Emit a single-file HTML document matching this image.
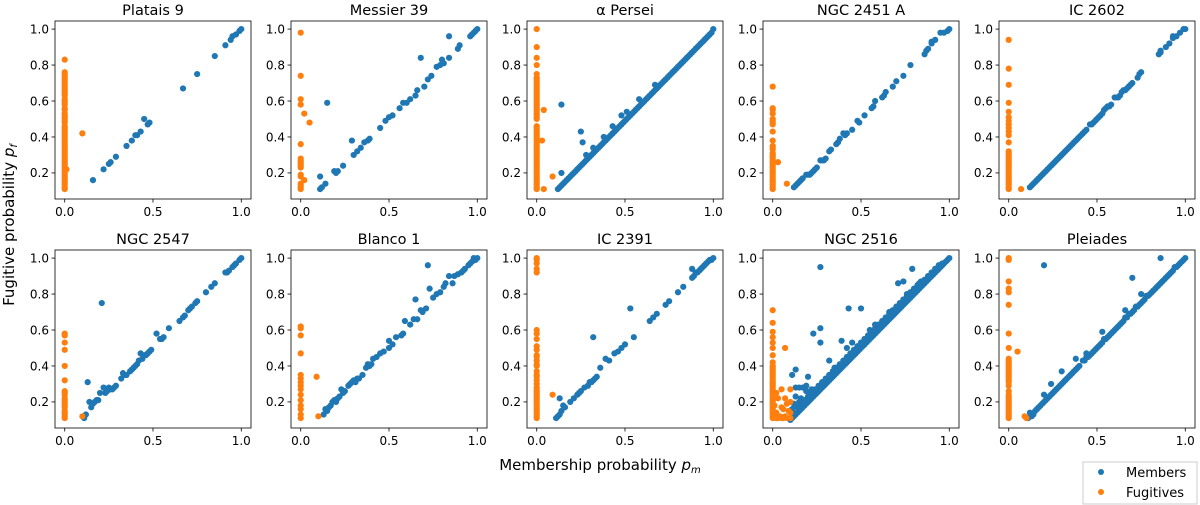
<!DOCTYPE html>
<html><head><meta charset="utf-8"><style>
html,body{margin:0;padding:0;background:#fff;}
svg{display:block;font-family:"DejaVu Sans","Liberation Sans",sans-serif;}
</style></head><body>
<svg id="fig" width="1200" height="505" viewBox="0 0 1200 505">
<text x="14" y="225" font-size="15" text-anchor="middle" transform="rotate(-90 14 225)">Fugitive probability <tspan font-style="italic">p</tspan><tspan font-style="italic" font-size="10" dy="3">f</tspan></text>
<text x="600" y="470" font-size="15" text-anchor="middle">Membership probability <tspan font-style="italic">p</tspan><tspan font-style="italic" font-size="10" dy="3">m</tspan></text>
<g>
<rect x="1083" y="462" width="114" height="42" fill="#fff" stroke="#ccc" stroke-width="1"/>
<circle cx="1101" cy="472" r="3" fill="#1f77b4"/>
<text x="1126" y="477" font-size="13">Members</text>
<circle cx="1101" cy="492" r="3" fill="#ff7f0e"/>
<text x="1126" y="497" font-size="13">Fugitives</text>
</g>
</svg>
<script>
const titles=["Platais 9","Messier 39","\u03b1 Persei","NGC 2451 A","IC 2602","NGC 2547","Blanco 1","IC 2391","NGC 2516","Pleiades"];
const xTicks=[0,0.5,1.0];
const xTickLabels=["0.0","0.5","1.0"];
const yTicks=[0.2,0.4,0.6,0.8,1.0];
const yTickLabels=["0.2","0.4","0.6","0.8","1.0"];

const m0=[[0.16,0.16],[0.22,0.22],[0.25,0.25],[0.26,0.26],[0.29,0.29],[0.35,0.35],[0.38,0.38],[0.40,0.41],[0.41,0.41],[0.43,0.43],[0.45,0.50],[0.47,0.47],[0.48,0.48],[0.67,0.67],[0.75,0.75],[0.85,0.85],[0.91,0.91],[0.94,0.94],[0.95,0.96],[0.97,0.97],[0.99,0.99],[1.0,1.0]];
const f0=[[0,0.83],[0,0.76],[0,0.75],[0,0.74],[0,0.73],[0,0.72],[0,0.71],[0,0.70],[0,0.69],[0,0.68],[0,0.67],[0,0.66],[0,0.65],[0,0.64],[0,0.63],[0,0.61],[0,0.60],[0,0.59],[0,0.58],[0,0.56],[0,0.55],[0,0.53],[0,0.52],[0,0.51],[0,0.50],[0,0.49],[0,0.48],[0,0.46],[0,0.45],[0,0.44],[0,0.43],[0,0.42],[0,0.41],[0,0.40],[0,0.39],[0,0.38],[0,0.37],[0,0.36],[0,0.35],[0,0.34],[0,0.33],[0,0.32],[0,0.31],[0,0.30],[0,0.29],[0,0.28],[0,0.27],[0,0.26],[0,0.25],[0,0.24],[0,0.23],[0,0.22],[0,0.21],[0,0.20],[0,0.19],[0,0.18],[0,0.17],[0,0.16],[0,0.15],[0,0.14],[0,0.13],[0,0.12],[0,0.11],[0.1,0.42],[0.01,0.22]];

const m1=[[0.11,0.11],[0.12,0.12],[0.11,0.18],[0.14,0.14],[0.15,0.59],[0.19,0.21],[0.20,0.20],[0.21,0.21],[0.24,0.24],[0.29,0.38],[0.30,0.30],[0.32,0.32],[0.34,0.34],[0.36,0.37],[0.38,0.38],[0.39,0.39],[0.45,0.45],[0.48,0.49],[0.50,0.51],[0.52,0.52],[0.56,0.56],[0.58,0.59],[0.60,0.59],[0.62,0.61],[0.65,0.63],[0.66,0.66],[0.68,0.84],[0.70,0.68],[0.72,0.72],[0.74,0.74],[0.77,0.79],[0.79,0.80],[0.80,0.83],[0.81,0.81],[0.84,0.84],[0.84,0.96],[0.89,0.89],[0.90,0.91],[0.96,0.96],[0.97,0.97],[0.98,0.98],[0.99,0.99],[1.0,1.0]];
const f1=[[0,0.98],[0,0.74],[0,0.61],[0,0.58],[0,0.36],[0,0.28],[0,0.27],[0,0.26],[0,0.25],[0,0.24],[0,0.23],[0,0.19],[0,0.18],[0,0.14],[0,0.13],[0,0.12],[0,0.11],[0.02,0.53],[0.05,0.48],[0.02,0.16]];

const m2=[[0.12,0.11],[0.13,0.12],[0.14,0.13],[0.15,0.14],[0.16,0.15],[0.17,0.16],[0.18,0.17],[0.19,0.18],[0.20,0.19],[0.21,0.20],[0.22,0.21],[0.23,0.22],[0.24,0.23],[0.25,0.24],[0.26,0.25],[0.27,0.26],[0.28,0.27],[0.29,0.28],[0.30,0.29],[0.31,0.30],[0.32,0.31],[0.33,0.32],[0.34,0.33],[0.35,0.34],[0.36,0.35],[0.37,0.36],[0.38,0.37],[0.39,0.38],[0.40,0.39],[0.41,0.40],[0.42,0.41],[0.43,0.42],[0.44,0.43],[0.45,0.44],[0.46,0.45],[0.47,0.46],[0.48,0.47],[0.49,0.48],[0.50,0.49],[0.51,0.50],[0.52,0.51],[0.53,0.52],[0.54,0.53],[0.55,0.54],[0.56,0.55],[0.57,0.56],[0.58,0.57],[0.59,0.58],[0.60,0.59],[0.61,0.60],[0.62,0.61],[0.63,0.62],[0.64,0.63],[0.65,0.64],[0.66,0.65],[0.67,0.66],[0.68,0.67],[0.69,0.68],[0.70,0.69],[0.71,0.70],[0.72,0.71],[0.73,0.72],[0.74,0.73],[0.75,0.74],[0.76,0.75],[0.77,0.76],[0.78,0.77],[0.79,0.78],[0.80,0.79],[0.81,0.80],[0.82,0.81],[0.83,0.82],[0.84,0.83],[0.85,0.84],[0.86,0.85],[0.87,0.86],[0.88,0.87],[0.89,0.88],[0.90,0.89],[0.91,0.90],[0.92,0.91],[0.93,0.92],[0.94,0.93],[0.95,0.94],[0.96,0.95],[0.97,0.96],[0.98,0.97],[0.99,0.98],[1.0,1.0],[0.14,0.20],[0.14,0.58],[0.25,0.43],[0.26,0.37],[0.28,0.30],[0.32,0.34],[0.38,0.40],[0.43,0.46],[0.48,0.52],[0.51,0.54],[0.58,0.61],[0.67,0.69]];
const f2=[[0,1.0],[0,0.90],[0,0.84],[0,0.80],[0,0.75],[0,0.73],[0,0.72],[0,0.71],[0,0.70],[0,0.69],[0,0.68],[0,0.67],[0,0.66],[0,0.65],[0,0.64],[0,0.63],[0,0.62],[0,0.61],[0,0.60],[0,0.59],[0,0.58],[0,0.57],[0,0.56],[0,0.55],[0,0.54],[0,0.53],[0,0.52],[0,0.51],[0,0.50],[0,0.46],[0,0.45],[0,0.44],[0,0.43],[0,0.42],[0,0.41],[0,0.40],[0,0.39],[0,0.38],[0,0.37],[0,0.36],[0,0.35],[0,0.34],[0,0.33],[0,0.32],[0,0.31],[0,0.30],[0,0.29],[0,0.28],[0,0.27],[0,0.26],[0,0.25],[0,0.24],[0,0.23],[0,0.22],[0,0.21],[0,0.20],[0,0.19],[0,0.18],[0,0.17],[0,0.16],[0,0.15],[0,0.14],[0,0.13],[0,0.12],[0,0.11],[0.04,0.55],[0.03,0.38],[0.09,0.18],[0.04,0.11]];

const m3=[[0.12,0.12],[0.13,0.13],[0.14,0.14],[0.15,0.15],[0.16,0.16],[0.17,0.17],[0.19,0.19],[0.20,0.19],[0.21,0.19],[0.22,0.20],[0.23,0.21],[0.24,0.22],[0.25,0.23],[0.27,0.27],[0.28,0.27],[0.29,0.27],[0.30,0.28],[0.32,0.32],[0.33,0.33],[0.36,0.36],[0.37,0.37],[0.38,0.39],[0.40,0.42],[0.41,0.41],[0.42,0.42],[0.45,0.44],[0.48,0.49],[0.49,0.48],[0.52,0.52],[0.56,0.56],[0.57,0.57],[0.58,0.60],[0.62,0.62],[0.63,0.63],[0.64,0.65],[0.68,0.68],[0.70,0.71],[0.74,0.74],[0.78,0.80],[0.86,0.86],[0.87,0.88],[0.88,0.89],[0.90,0.92],[0.90,0.93],[0.92,0.94],[0.95,0.98],[0.97,0.98],[0.99,0.99],[1.0,1.0]];
const f3=[[0,0.68],[0,0.56],[0,0.55],[0,0.53],[0,0.50],[0,0.49],[0,0.48],[0,0.47],[0,0.43],[0,0.38],[0,0.35],[0,0.34],[0,0.33],[0,0.31],[0,0.30],[0,0.29],[0,0.28],[0,0.27],[0,0.26],[0,0.25],[0,0.24],[0,0.23],[0,0.22],[0,0.21],[0,0.20],[0,0.19],[0,0.18],[0,0.17],[0,0.16],[0,0.15],[0,0.14],[0,0.13],[0,0.12],[0,0.11],[0.03,0.26],[0.08,0.14]];

const m4=[[0.12,0.12],[0.13,0.13],[0.14,0.14],[0.15,0.15],[0.16,0.16],[0.17,0.17],[0.18,0.18],[0.19,0.19],[0.20,0.20],[0.21,0.21],[0.22,0.22],[0.23,0.23],[0.24,0.24],[0.25,0.25],[0.26,0.26],[0.27,0.27],[0.28,0.28],[0.29,0.29],[0.30,0.30],[0.31,0.31],[0.32,0.32],[0.33,0.33],[0.34,0.34],[0.35,0.35],[0.36,0.36],[0.37,0.37],[0.38,0.38],[0.39,0.39],[0.40,0.40],[0.41,0.41],[0.42,0.42],[0.43,0.43],[0.44,0.44],[0.46,0.47],[0.47,0.47],[0.48,0.48],[0.49,0.49],[0.50,0.50],[0.51,0.51],[0.52,0.52],[0.53,0.53],[0.54,0.55],[0.55,0.56],[0.56,0.57],[0.57,0.57],[0.58,0.58],[0.60,0.62],[0.61,0.62],[0.62,0.62],[0.63,0.63],[0.64,0.65],[0.65,0.66],[0.66,0.66],[0.67,0.67],[0.68,0.68],[0.69,0.69],[0.70,0.70],[0.73,0.73],[0.74,0.75],[0.75,0.76],[0.85,0.86],[0.86,0.87],[0.86,0.88],[0.89,0.90],[0.91,0.92],[0.93,0.95],[0.93,0.96],[0.95,0.96],[0.97,0.98],[0.99,1.0],[1.0,1.0]];
const f4=[[0,0.94],[0,0.78],[0,0.69],[0,0.59],[0,0.54],[0,0.51],[0,0.49],[0,0.47],[0,0.45],[0,0.43],[0,0.41],[0,0.37],[0,0.32],[0,0.31],[0,0.30],[0,0.29],[0,0.28],[0,0.27],[0,0.26],[0,0.25],[0,0.24],[0,0.23],[0,0.22],[0,0.21],[0,0.20],[0,0.19],[0,0.18],[0,0.17],[0,0.16],[0,0.15],[0,0.14],[0,0.13],[0,0.12],[0,0.11],[0.07,0.11]];

const m5=[[0.11,0.11],[0.12,0.13],[0.13,0.31],[0.14,0.20],[0.15,0.17],[0.16,0.19],[0.17,0.20],[0.18,0.21],[0.19,0.21],[0.20,0.25],[0.21,0.75],[0.22,0.28],[0.23,0.25],[0.24,0.26],[0.25,0.28],[0.26,0.27],[0.27,0.27],[0.28,0.28],[0.29,0.29],[0.32,0.33],[0.33,0.36],[0.34,0.35],[0.35,0.35],[0.37,0.37],[0.38,0.38],[0.39,0.39],[0.40,0.40],[0.41,0.41],[0.42,0.43],[0.43,0.47],[0.44,0.44],[0.45,0.46],[0.46,0.46],[0.47,0.47],[0.48,0.48],[0.49,0.49],[0.52,0.58],[0.54,0.55],[0.55,0.55],[0.56,0.56],[0.59,0.61],[0.65,0.65],[0.67,0.67],[0.68,0.68],[0.70,0.71],[0.71,0.72],[0.72,0.73],[0.74,0.75],[0.75,0.76],[0.80,0.81],[0.83,0.84],[0.85,0.86],[0.91,0.92],[0.92,0.92],[0.93,0.93],[0.95,0.95],[0.96,0.96],[0.97,0.97],[0.99,0.99],[1.0,1.0]];
const f5=[[0,0.58],[0,0.57],[0,0.53],[0,0.49],[0,0.40],[0,0.32],[0,0.26],[0,0.25],[0,0.24],[0,0.22],[0,0.21],[0,0.20],[0,0.19],[0,0.18],[0,0.17],[0,0.15],[0,0.14],[0,0.13],[0,0.12],[0,0.11],[0.1,0.12]];

const m6=[[0.13,0.13],[0.14,0.16],[0.15,0.15],[0.16,0.17],[0.17,0.18],[0.18,0.20],[0.19,0.21],[0.20,0.20],[0.21,0.22],[0.22,0.23],[0.23,0.27],[0.24,0.25],[0.25,0.26],[0.27,0.29],[0.28,0.30],[0.29,0.31],[0.30,0.32],[0.31,0.31],[0.32,0.33],[0.33,0.33],[0.35,0.35],[0.37,0.39],[0.38,0.41],[0.39,0.40],[0.40,0.41],[0.41,0.44],[0.43,0.45],[0.45,0.47],[0.47,0.48],[0.50,0.50],[0.50,0.54],[0.52,0.52],[0.54,0.56],[0.57,0.57],[0.58,0.58],[0.59,0.65],[0.62,0.63],[0.64,0.66],[0.65,0.77],[0.66,0.66],[0.68,0.71],[0.69,0.70],[0.71,0.72],[0.72,0.96],[0.73,0.83],[0.75,0.78],[0.77,0.80],[0.79,0.81],[0.81,0.84],[0.82,0.86],[0.84,0.90],[0.86,0.86],[0.87,0.90],[0.89,0.91],[0.91,0.92],[0.92,0.93],[0.93,0.94],[0.95,0.96],[0.96,0.97],[0.97,0.98],[0.98,1.0],[0.99,0.99],[1.0,1.0]];
const f6=[[0,0.62],[0,0.61],[0,0.57],[0,0.47],[0,0.35],[0,0.33],[0,0.31],[0,0.29],[0,0.27],[0,0.24],[0,0.21],[0,0.18],[0,0.16],[0,0.13],[0,0.11],[0.09,0.34],[0.1,0.12]];

const m7=[[0.11,0.11],[0.12,0.12],[0.13,0.22],[0.13,0.13],[0.14,0.15],[0.15,0.18],[0.16,0.17],[0.19,0.20],[0.21,0.22],[0.23,0.24],[0.24,0.25],[0.25,0.26],[0.27,0.28],[0.29,0.29],[0.30,0.31],[0.31,0.31],[0.32,0.56],[0.32,0.32],[0.33,0.33],[0.34,0.34],[0.36,0.39],[0.39,0.44],[0.41,0.43],[0.44,0.47],[0.46,0.48],[0.48,0.50],[0.50,0.52],[0.53,0.72],[0.55,0.56],[0.64,0.65],[0.66,0.67],[0.68,0.69],[0.73,0.74],[0.75,0.76],[0.80,0.81],[0.83,0.84],[0.88,0.94],[0.88,0.89],[0.89,0.90],[0.90,0.92],[0.91,0.92],[0.92,0.93],[0.93,0.94],[0.94,0.95],[0.95,0.96],[0.96,0.97],[0.97,0.98],[0.98,0.99],[0.99,0.99],[1.0,1.0]];
const f7=[[0,1.0],[0,0.99],[0,0.97],[0,0.94],[0,0.92],[0,0.60],[0,0.58],[0,0.55],[0,0.51],[0,0.49],[0,0.46],[0,0.45],[0,0.43],[0,0.41],[0,0.40],[0,0.37],[0,0.35],[0,0.34],[0,0.32],[0,0.30],[0,0.28],[0,0.27],[0,0.26],[0,0.25],[0,0.24],[0,0.23],[0,0.22],[0,0.21],[0,0.20],[0,0.19],[0,0.18],[0,0.17],[0,0.16],[0,0.15],[0,0.14],[0,0.13],[0,0.12],[0,0.11],[0.09,0.24]];

const m8=[[0.10,0.10],[0.11,0.11],[0.12,0.12],[0.13,0.13],[0.14,0.14],[0.15,0.15],[0.16,0.16],[0.17,0.17],[0.18,0.18],[0.19,0.19],[0.20,0.20],[0.21,0.21],[0.22,0.22],[0.23,0.23],[0.24,0.24],[0.25,0.25],[0.26,0.26],[0.27,0.27],[0.28,0.28],[0.29,0.29],[0.30,0.30],[0.31,0.31],[0.32,0.32],[0.33,0.33],[0.34,0.34],[0.35,0.35],[0.36,0.36],[0.37,0.37],[0.38,0.38],[0.39,0.39],[0.40,0.40],[0.41,0.41],[0.42,0.42],[0.43,0.43],[0.44,0.44],[0.45,0.45],[0.46,0.46],[0.47,0.47],[0.48,0.48],[0.49,0.49],[0.50,0.50],[0.51,0.51],[0.52,0.52],[0.53,0.53],[0.54,0.54],[0.55,0.55],[0.56,0.56],[0.57,0.57],[0.58,0.58],[0.59,0.59],[0.60,0.60],[0.61,0.61],[0.62,0.62],[0.63,0.63],[0.64,0.64],[0.65,0.65],[0.66,0.66],[0.67,0.67],[0.68,0.68],[0.69,0.69],[0.70,0.70],[0.71,0.71],[0.72,0.72],[0.73,0.73],[0.74,0.74],[0.75,0.75],[0.76,0.76],[0.77,0.77],[0.78,0.78],[0.79,0.79],[0.80,0.80],[0.81,0.81],[0.82,0.82],[0.83,0.83],[0.84,0.84],[0.85,0.85],[0.86,0.86],[0.87,0.87],[0.88,0.88],[0.89,0.89],[0.90,0.90],[0.91,0.91],[0.92,0.92],[0.93,0.93],[0.94,0.94],[0.95,0.95],[0.96,0.96],[0.97,0.97],[0.98,0.98],[0.99,0.99],[1.0,1.0],
[0.12,0.14],[0.14,0.17],[0.16,0.19],[0.18,0.21],[0.20,0.23],[0.22,0.25],[0.24,0.27],[0.26,0.29],[0.28,0.31],[0.30,0.33],[0.32,0.35],[0.34,0.37],[0.36,0.39],[0.38,0.41],[0.40,0.43],[0.42,0.45],[0.44,0.47],[0.46,0.49],[0.48,0.51],[0.50,0.53],[0.52,0.55],[0.54,0.57],[0.56,0.59],[0.58,0.61],[0.60,0.63],[0.62,0.65],[0.64,0.67],[0.66,0.69],[0.68,0.71],[0.70,0.73],[0.72,0.75],[0.74,0.77],[0.76,0.79],[0.78,0.81],[0.80,0.83],[0.82,0.85],[0.84,0.87],[0.86,0.88],[0.88,0.90],[0.90,0.92],[0.92,0.94],[0.94,0.96],[0.96,0.97],
[0.27,0.95],[0.43,0.72],[0.50,0.72],[0.79,0.94],[0.71,0.86],[0.74,0.87],[0.27,0.61],[0.27,0.53],[0.23,0.58],[0.39,0.54],[0.42,0.50],[0.45,0.53],[0.55,0.60],[0.32,0.43],[0.13,0.38],[0.11,0.35],[0.20,0.34],[0.13,0.28],[0.15,0.28],[0.17,0.28],[0.19,0.29],[0.13,0.23],[0.16,0.22],[0.12,0.19],[0.15,0.20],[0.11,0.16],[0.19,0.26],[0.22,0.27],[0.35,0.39],[0.58,0.63],[0.60,0.63],[0.66,0.70],[0.76,0.80],[0.83,0.86]];
const f8=[[0,0.71],[0,0.64],[0,0.59],[0,0.56],[0,0.53],[0,0.50],[0,0.46],[0,0.42],[0,0.40],[0,0.39],[0,0.38],[0,0.37],[0,0.36],[0,0.35],[0,0.34],[0,0.33],[0,0.32],[0,0.31],[0,0.30],[0,0.29],[0,0.28],[0,0.27],[0,0.26],[0,0.25],[0,0.24],[0,0.23],[0,0.22],[0,0.21],[0,0.20],[0,0.19],[0,0.18],[0,0.17],[0,0.16],[0,0.15],[0,0.14],[0,0.13],[0,0.12],[0,0.11],[0.02,0.25],[0.03,0.22],[0.05,0.27],[0.05,0.17],[0.06,0.16],[0.07,0.50],[0.07,0.22],[0.08,0.19],[0.10,0.27],[0.10,0.20],[0.02,0.14],[0.04,0.12],[0.06,0.11],[0.08,0.11],[0.10,0.11],[0.09,0.15],[0.03,0.11],[0.10,0.14],[0.01,0.18],[0.02,0.11],[0.01,0.12],[0.05,0.11],[0.07,0.12]];

const m9=[[0.11,0.11],[0.12,0.14],[0.13,0.12],[0.14,0.13],[0.15,0.15],[0.16,0.16],[0.17,0.17],[0.18,0.18],[0.19,0.19],[0.20,0.20],[0.21,0.21],[0.22,0.22],[0.23,0.23],[0.24,0.24],[0.25,0.25],[0.26,0.26],[0.27,0.27],[0.28,0.28],[0.29,0.29],[0.30,0.30],[0.31,0.31],[0.32,0.32],[0.33,0.33],[0.34,0.34],[0.35,0.35],[0.36,0.36],[0.37,0.37],[0.38,0.38],[0.39,0.39],[0.40,0.40],[0.42,0.43],[0.43,0.43],[0.44,0.45],[0.45,0.45],[0.46,0.46],[0.47,0.47],[0.48,0.48],[0.49,0.49],[0.50,0.50],[0.51,0.51],[0.52,0.52],[0.53,0.53],[0.54,0.55],[0.55,0.55],[0.56,0.56],[0.57,0.57],[0.58,0.58],[0.59,0.59],[0.60,0.60],[0.61,0.61],[0.62,0.62],[0.63,0.63],[0.64,0.64],[0.65,0.65],[0.66,0.67],[0.67,0.67],[0.68,0.69],[0.69,0.69],[0.70,0.70],[0.71,0.71],[0.72,0.73],[0.73,0.73],[0.74,0.74],[0.75,0.75],[0.76,0.76],[0.77,0.77],[0.78,0.79],[0.79,0.79],[0.80,0.80],[0.81,0.81],[0.82,0.82],[0.83,0.83],[0.84,0.84],[0.85,0.85],[0.86,0.86],[0.87,0.87],[0.88,0.88],[0.89,0.89],[0.90,0.90],[0.91,0.91],[0.92,0.92],[0.93,0.93],[0.94,0.95],[0.95,0.95],[0.96,0.96],[0.97,0.97],[0.98,0.98],[0.99,0.99],[1.0,1.0],[0.20,0.96],[0.86,1.0],[0.70,0.89],[0.38,0.44],[0.30,0.37],[0.53,0.59],[0.75,0.80],[0.20,0.24],[0.24,0.30],[0.44,0.47],[0.66,0.71]];
const f9=[[0,1.0],[0,0.99],[0,0.87],[0,0.83],[0,0.81],[0,0.74],[0,0.58],[0,0.50],[0,0.44],[0,0.43],[0,0.42],[0,0.41],[0,0.40],[0,0.39],[0,0.38],[0,0.37],[0,0.36],[0,0.35],[0,0.34],[0,0.33],[0,0.32],[0,0.31],[0,0.29],[0,0.26],[0,0.24],[0,0.23],[0,0.22],[0,0.21],[0,0.20],[0,0.19],[0,0.18],[0,0.17],[0,0.16],[0,0.15],[0,0.14],[0,0.13],[0,0.12],[0,0.11],[0.05,0.48],[0.09,0.12],[0.10,0.11]];

const membersData=[m0,m1,m2,m3,m4,m5,m6,m7,m8,m9];
const fugitivesData=[f0,f1,f2,f3,f4,f5,f6,f7,f8,f9];

const NS="http://www.w3.org/2000/svg";
const svg=document.getElementById('fig');
const colLeft=[55,291,527,763,999], rowTop=[21,250], PW=196, PH=178;
const X0=-0.055,X1=1.055,Y0=0.055,Y1=1.045;
function mk(tag,attrs,parent){const e=document.createElementNS(NS,tag);for(const k in attrs)e.setAttribute(k,attrs[k]);parent.appendChild(e);return e;}
titles.forEach((t,i)=>{
  const L=colLeft[i%5],T=rowTop[Math.floor(i/5)];
  const sx=v=>L+(v-X0)/(X1-X0)*PW;
  const sy=v=>T+PH-(v-Y0)/(Y1-Y0)*PH;
  const g=mk('g',{},svg);
  
  
  const tt=mk('text',{x:L+PW/2,y:T-6,'font-size':14.5,'text-anchor':'middle'},g);
  tt.textContent=t;
  
  
  xTicks.forEach((v,j)=>{
    const ln=mk('line',{x1:sx(v),x2:sx(v),y1:T+PH,y2:T+PH+3.5,stroke:'#000','stroke-width':0.8},g);
    
    
    const tx=mk('text',{x:sx(v),y:T+PH+17,'font-size':12,'text-anchor':'middle'},g);
    tx.textContent=xTickLabels[j];
    
    
  });
  yTicks.forEach((v,j)=>{
    const ln=mk('line',{x1:L-3.5,x2:L,y1:sy(v),y2:sy(v),stroke:'#000','stroke-width':0.8},g);
    
    
    const tx=mk('text',{x:L-6,y:sy(v)+4.3,'font-size':12,'text-anchor':'end'},g);
    tx.textContent=yTickLabels[j];
    
    
  });
  membersData[i].forEach(p=>{
    const c=mk('circle',{cx:sx(p[0]),cy:sy(p[1]),r:3.1,fill:'#1f77b4'},g);
    
    
  });
  fugitivesData[i].forEach(p=>{
    const c=mk('circle',{cx:sx(p[0]),cy:sy(p[1]),r:3.1,fill:'#ff7f0e'},g);
    
    
  });
  const fr=mk('rect',{x:L,y:T,width:PW,height:PH,fill:'none',stroke:'#000','stroke-width':0.8},g);
  
  
});
</script>
</body></html>
